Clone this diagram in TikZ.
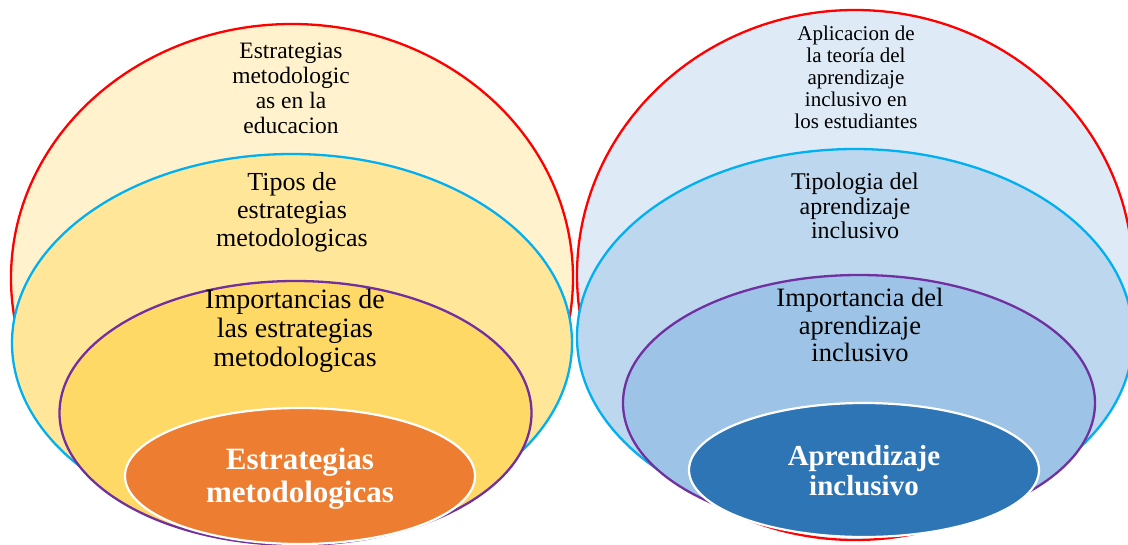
\documentclass[tikz,border=0pt]{standalone}
\usepackage{fontspec}
\setmainfont{Liberation Serif}
\usetikzlibrary{positioning}
\definecolor{ringRed}{HTML}{FF0000}
\definecolor{ringCyan}{HTML}{00B0F0}
\definecolor{ringPurple}{HTML}{7030A0}
\definecolor{yelA}{HTML}{FFF2CC}
\definecolor{yelB}{HTML}{FFE699}
\definecolor{yelC}{HTML}{FFD966}
\definecolor{coreOrange}{HTML}{ED7D31}
\definecolor{bluA}{HTML}{DEEBF7}
\definecolor{bluB}{HTML}{BDD7EE}
\definecolor{bluC}{HTML}{9DC3E6}
\definecolor{coreBlue}{HTML}{2E75B6}
\tikzset{
    ring/.style={line width=2.3pt},
    coreRing/.style={draw=white, line width=2.2pt},
    label/.style={align=center, inner sep=0pt, text=black},
    coreLabel/.style={align=center, inner sep=0pt, text=white, font=\bfseries\fontsize{31}{33}\selectfont}
}
\begin{document}
\begin{tikzpicture}[x=1pt, y=-1pt]
	\useasboundingbox (0,0) rectangle (1128,544);
	% left group
	\filldraw[ring, draw=ringRed, fill=yelA] (292,278) ellipse [x radius=281, y radius=254];
	\filldraw[ring, draw=ringCyan, fill=yelB] (292,343) ellipse [x radius=280, y radius=189];
	\filldraw[ring, draw=ringPurple, fill=yelC] (295.5,413) ellipse [x radius=236, y radius=132];
	\filldraw[coreRing, fill=coreOrange] (300,476) ellipse [x radius=175, y radius=68];
	% right group
	\filldraw[ring, draw=ringRed, fill=bluA] (855,275) ellipse [x radius=278, y radius=265];
	\filldraw[ring, draw=ringCyan, fill=bluB] (855,337) ellipse [x radius=278, y radius=188];
	\filldraw[ring, draw=ringPurple, fill=bluC] (859,403) ellipse [x radius=236, y radius=128];
	\filldraw[coreRing, fill=coreBlue] (864,470) ellipse [x radius=175, y radius=67];
	% texts
	\node[label, font=\fontsize{23.5}{25}\selectfont] (estEdu) at (291,88) {Estrategias\\metodologic\\as en la\\educacion};
	\node[label, font=\fontsize{26}{28}\selectfont] (estTipos) at (292,212) {Tipos de\\estrategias\\metodologicas};
	\node[label, font=\fontsize{28}{29}\selectfont] (estImp) at (295,331) {Importancias de\\las estrategias\\metodologicas};
	\node[coreLabel] (estCore) at (300,479) {Estrategias\\metodologicas};
	\node[label, font=\fontsize{21}{22}\selectfont] (aprApl) at (856,77) {Aplicacion de\\la teoría del\\aprendizaje\\inclusivo en\\los estudiantes};
	\node[label, font=\fontsize{24}{24.5}\selectfont] (aprTipo) at (855,206) {Tipologia del\\aprendizaje\\inclusivo};
	\node[label, font=\fontsize{26.5}{27.5}\selectfont] (aprImp) at (860,325) {Importancia del\\aprendizaje\\inclusivo};
	\node[coreLabel, font=\bfseries\fontsize{29}{30}\selectfont] (aprCore) at (864,471) {Aprendizaje\\inclusivo};
\end{tikzpicture}
\end{document}
